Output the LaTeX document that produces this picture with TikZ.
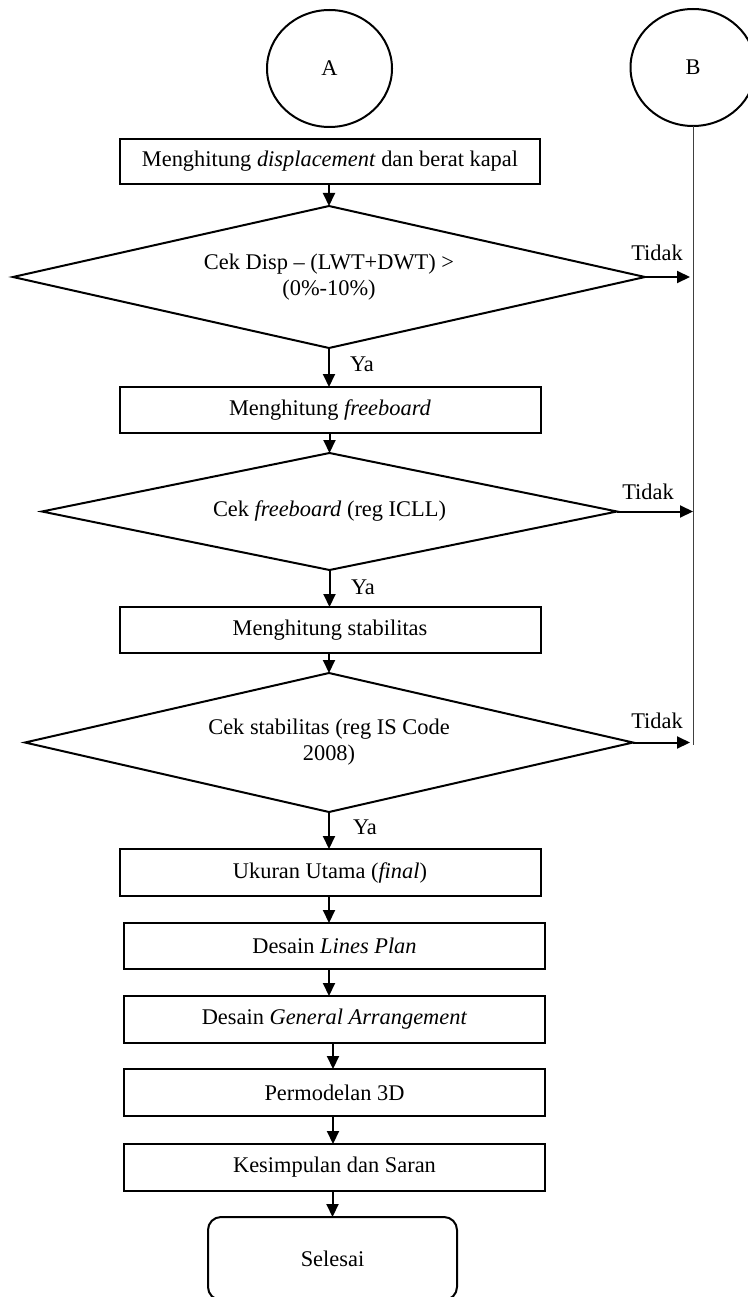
\documentclass[tikz,border=0pt]{standalone}
\usepackage{fontspec}
\setmainfont{Liberation Serif}
\usetikzlibrary{shapes.geometric,arrows.meta}
\tikzset{
  base/.style={draw=black, line width=2pt, inner sep=0pt, outer sep=0pt, align=center},
  procbox/.style={base, rectangle, minimum width=421pt, minimum height=46pt},
  decision/.style={base, diamond},
  connector/.style={base, ellipse, minimum width=125pt, minimum height=117pt},
  terminal/.style={base, rectangle, rounded corners=13pt, minimum width=249pt, minimum height=83pt},
  flow/.style={line width=2pt, -{Triangle[length=13pt,width=12pt]}},
  lbl/.style={inner sep=0pt, outer sep=0pt},
  bline/.style={line width=1pt, draw=black!75}
}
\begin{document}
\begin{tikzpicture}[x=1pt,y=-1pt,font=\fontsize{22.4}{26}\selectfont]
\useasboundingbox (0,0) rectangle (747,1297);

% connectors
\node[connector] (A) at (329.5,68.5) {A};
\node[connector] (B) at (693,67.5) {B};

% boxes and decisions
\node[procbox, minimum width=420pt, minimum height=45pt] (b1) at (330,161.5) {Menghitung \textit{displacement} dan berat kapal};
\node[decision, shape aspect=4.45, minimum width=632pt, minimum height=142pt] (d1) at (329,277) {Cek Disp – (LWT+DWT) >\\(0\%-10\%)};
\node[procbox] (b2) at (330,410) {Menghitung \textit{freeboard}};
\node[decision, shape aspect=4.9, minimum width=575pt, minimum height=117pt] (d2) at (329.5,511.5) {Cek \textit{freeboard} (reg ICLL)};
\node[procbox] (b3) at (330,630) {Menghitung stabilitas};
\node[decision, shape aspect=4.37, minimum width=608pt, minimum height=139pt] (d3) at (329,742.5) {Cek stabilitas (reg IS Code\\2008)};
\node[procbox, minimum height=47pt] (b4) at (330,872.5) {Ukuran Utama (\textit{final})};
\node[procbox] (b5) at (334.5,946) {Desain \textit{Lines Plan}};
\node[procbox, minimum height=47pt] (b6) at (334.5,1019.5) {Desain \textit{General Arrangement}};
\node[procbox, minimum height=47pt] (b7) at (334.5,1092.5) {Permodelan 3D};
\node[procbox, minimum height=47pt] (b8) at (334.5,1167.5) {Kesimpulan dan Saran};
\node[terminal] (end) at (332.5,1258.5) {Selesai};

% B line and its end
\coordinate (Bend) at (693,745);
\draw[bline] (B.south) -- (Bend);

% main flow
\draw[flow] (b1.south -| d1.north) -- (d1.north);
\draw[flow] (d1.south) -- (d1.south |- b2.north);
\draw[flow] (b2.south -| d2.north) -- (d2.north);
\draw[flow] (d2.south) -- (d2.south |- b3.north);
\draw[flow] (b3.south -| d3.north) -- (d3.north);
\draw[flow] (d3.south) -- (d3.south |- b4.north);
\draw[flow] (b4.south -| d3.south) -- (d3.south |- b5.north);
\draw[flow] (b5.south -| d3.south) -- (d3.south |- b6.north);
\coordinate (m67) at (333,1043);
\draw[flow] (b6.south -| m67) -- (m67 |- b7.north);
\draw[flow] (b7.south -| m67) -- (m67 |- b8.north);
\draw[flow] (b8.south -| end.north) -- (end.north);

% Tidak branches
\coordinate (t1) at (690,277);
\coordinate (t2) at (693,511.5);
\coordinate (t3) at (690,742.5);
\draw[flow] (d1.east) -- (t1);
\draw[flow] (d2.east) -- (t2);
\draw[flow] (d3.east) -- (t3);

% labels
\node[lbl] (n1) at (657,253) {Tidak};
\node[lbl] (n2) at (648,492) {Tidak};
\node[lbl] (n3) at (657,721) {Tidak};
\node[lbl, anchor=west] (y1) at (350,364) {Ya};
\node[lbl, anchor=west] (y2) at (351,587) {Ya};
\node[lbl, anchor=west] (y3) at (353,827) {Ya};
\end{tikzpicture}
\end{document}
